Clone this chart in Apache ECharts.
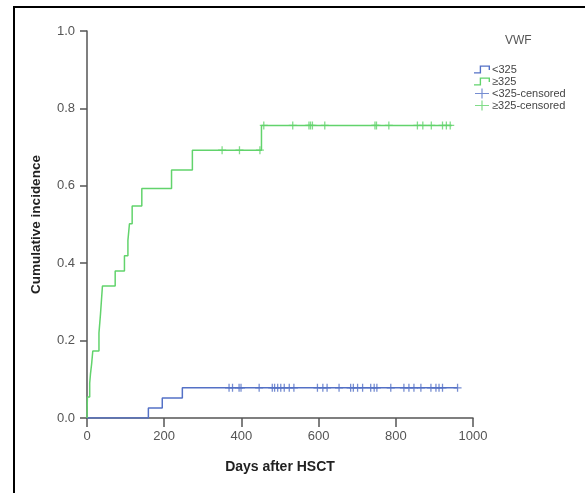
<!DOCTYPE html>
<html>
<head>
<meta charset="utf-8">
<script src="https://cdn.jsdelivr.net/npm/echarts@6/dist/echarts.min.js"></script>
<style>html,body{margin:0;padding:0;background:#fff;}#c{width:585px;height:493px;}</style>
</head>
<body>
<div id="c"></div>
<script>
// ---- data ----
const xTicks = [0, 200, 400, 600, 800, 1000];
const yTicks = [0.0, 0.2, 0.4, 0.6, 0.8, 1.0];
const seriesNames = ['<325', '≥325', '<325-censored', '≥325-censored'];
const legendTitle = 'VWF';

const lowTimes  = [0, 159, 195, 247, 960];
const lowValues = [0, 0.026, 0.052, 0.078, 0.078];

const highTimes  = [0, 1, 7, 9, 12, 15, 31, 35, 40, 73, 97, 106, 110, 117, 142, 219, 273, 452, 945];
const highValues = [0, 0.054, 0.09, 0.114, 0.14, 0.173, 0.22, 0.269, 0.341, 0.38, 0.419, 0.459, 0.502, 0.548, 0.593, 0.641, 0.692, 0.756, 0.756];

const lowCensored = [368, 377, 394, 399, 446, 480, 486, 494, 502, 511, 524, 536, 597, 611, 622, 653, 683, 690, 701, 714, 735, 744, 751, 787, 821, 834, 847, 865, 891, 904, 912, 921, 960];
const highCensored = [350, 395, 448, 458, 533, 575, 579, 584, 616, 746, 750, 782, 856, 870, 892, 921, 931, 941];

// ---- helpers ----
function pairs(t, v) { return t.map((x, i) => [x, v[i]]); }
function stepAt(t, times, values) {
  let v = values[0];
  for (let i = 0; i < times.length; i++) { if (times[i] <= t) v = values[i]; }
  return v;
}
const blue = '#5471c6';
const green = '#62d36c';
const stepIcon = 'path://M0,6 L5,6 L5,0 L14,0 L14,4 L12.8,4 L12.8,1.2 L6.2,1.2 L6.2,7.2 L0,7.2 Z';
const plusIcon = 'path://M0,4.4 L14,4.4 L14,5.6 L0,5.6 Z M6.4,0 L7.6,0 L7.6,10 L6.4,10 Z';
const plusSym = 'path://M0,4.2 L10,4.2 L10,5.8 L0,5.8 Z M4.2,0 L5.8,0 L5.8,10 L4.2,10 Z';
const font = '"Liberation Sans", Arial, sans-serif';

const chart = echarts.init(document.getElementById('c'), null, {renderer: 'canvas'});
chart.setOption({
  animation: false,
  backgroundColor: '#fff',
  textStyle: {fontFamily: font},
  grid: {left: 87, right: 112, top: 31, bottom: 75},
  graphic: [
    {type: 'line', shape: {x1: 13, y1: 7, x2: 585, y2: 7}, style: {stroke: '#000', lineWidth: 2}},
    {type: 'line', shape: {x1: 14, y1: 7, x2: 14, y2: 493}, style: {stroke: '#000', lineWidth: 2}},
    {type: 'text', left: 505, top: 35, style: {text: legendTitle, font: '12px ' + font, fill: '#555'}}
  ],
  legend: {
    orient: 'vertical', left: 469, top: 59, itemWidth: 16, itemHeight: 10, itemGap: 1,
    textStyle: {fontSize: 11, color: '#444', fontFamily: font, padding: [0, 0, 0, -3]},
    data: [
      {name: seriesNames[0], icon: stepIcon},
      {name: seriesNames[1], icon: stepIcon},
      {name: seriesNames[2], icon: plusIcon},
      {name: seriesNames[3], icon: plusIcon}
    ]
  },
  xAxis: {
    type: 'value', min: 0, max: 1000, interval: 200,
    name: 'Days after HSCT', nameLocation: 'middle', nameGap: 42,
    nameTextStyle: {fontWeight: 'bold', fontSize: 14, color: '#222', fontFamily: font},
    axisLine: {show: true, lineStyle: {color: '#555', width: 1.5}},
    axisTick: {show: true, length: 9, lineStyle: {color: '#555', width: 1.5}},
    axisLabel: {color: '#555', fontSize: 13, margin: 12, fontFamily: font,
      formatter: v => xTicks.includes(v) ? String(v) : ''},
    splitLine: {show: false}
  },
  yAxis: {
    type: 'value', min: 0, max: 1, interval: 0.2,
    name: 'Cumulative incidence', nameLocation: 'middle', nameGap: 44,
    nameTextStyle: {fontWeight: 'bold', fontSize: 13.5, color: '#222', fontFamily: font},
    axisLine: {show: true, lineStyle: {color: '#555', width: 1.5}},
    axisTick: {show: true, length: 7, lineStyle: {color: '#555', width: 1.5}},
    axisLabel: {color: '#555', fontSize: 13, margin: 12, fontFamily: font,
      formatter: v => { const t = yTicks.find(y => Math.abs(y - v) < 1e-9); return t === undefined ? '' : t.toFixed(1); }},
    splitLine: {show: false}
  },
  series: [
    {name: seriesNames[0], type: 'line', step: 'end', symbol: 'none', z: 3,
     data: pairs(lowTimes, lowValues), itemStyle: {color: blue}, lineStyle: {color: blue, width: 1.5}},
    {name: seriesNames[1], type: 'line', step: 'end', symbol: 'none', z: 3,
     data: pairs(highTimes, highValues), itemStyle: {color: green}, lineStyle: {color: green, width: 1.5}},
    {name: seriesNames[2], type: 'scatter', symbol: plusSym, symbolSize: 8, z: 4,
     itemStyle: {color: blue},
     data: lowCensored.map(t => [t, stepAt(t, lowTimes, lowValues)])},
    {name: seriesNames[3], type: 'scatter', symbol: plusSym, symbolSize: 8, z: 4,
     itemStyle: {color: green},
     data: highCensored.map(t => [t, stepAt(t, highTimes, highValues)])}
  ]
});
</script>
</body>
</html>
